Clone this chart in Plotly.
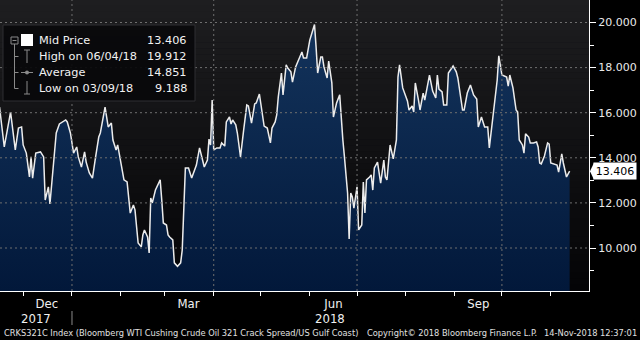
import plotly.graph_objects as go
import pandas as pd

# ---------------- data ----------------
DATES = [
    "2017-11-16", "2017-11-19", "2017-11-23", "2017-11-26", "2017-11-28", "2017-11-30",
    "2017-12-01", "2017-12-03", "2017-12-05", "2017-12-06", "2017-12-07", "2017-12-09",
    "2017-12-12", "2017-12-14", "2017-12-15", "2017-12-17", "2017-12-18", "2017-12-20",
    "2017-12-22", "2017-12-24", "2017-12-26", "2017-12-28", "2017-12-29", "2017-12-31",
    "2018-01-02", "2018-01-04", "2018-01-05", "2018-01-07", "2018-01-09", "2018-01-10",
    "2018-01-12", "2018-01-14", "2018-01-16", "2018-01-18", "2018-01-19", "2018-01-22",
    "2018-01-24", "2018-01-26", "2018-01-27", "2018-01-29", "2018-01-30",
    "2018-02-02", "2018-02-03", "2018-02-05", "2018-02-07", "2018-02-09", "2018-02-10",
    "2018-02-12", "2018-02-14", "2018-02-15", "2018-02-16", "2018-02-18", "2018-02-19",
    "2018-02-20", "2018-02-21", "2018-02-23", "2018-02-24", "2018-02-26", "2018-02-27",
    "2018-02-28", "2018-03-02", "2018-03-03", "2018-03-04", "2018-03-06", "2018-03-07",
    "2018-03-09", "2018-03-11", "2018-03-12", "2018-03-14", "2018-03-16", "2018-03-18",
    "2018-03-21", "2018-03-23", "2018-03-25", "2018-03-26", "2018-03-28", "2018-03-29",
    "2018-03-30", "2018-03-31", "2018-04-01", "2018-04-03", "2018-04-05", "2018-04-06",
    "2018-04-08", "2018-04-09", "2018-04-11", "2018-04-12", "2018-04-13", "2018-04-15",
    "2018-04-16", "2018-04-18", "2018-04-20", "2018-04-22", "2018-04-23", "2018-04-25",
    "2018-04-27", "2018-04-28", "2018-04-30", "2018-05-02", "2018-05-03", "2018-05-05",
    "2018-05-07", "2018-05-08", "2018-05-10", "2018-05-11", "2018-05-12", "2018-05-14",
    "2018-05-15", "2018-05-17", "2018-05-18", "2018-05-20", "2018-05-21", "2018-05-23",
    "2018-05-25", "2018-05-27", "2018-05-28", "2018-05-30", "2018-06-01", "2018-06-04",
    "2018-06-05", "2018-06-06", "2018-06-08", "2018-06-09", "2018-06-10", "2018-06-12",
    "2018-06-13", "2018-06-15", "2018-06-16", "2018-06-18", "2018-06-20", "2018-06-21",
    "2018-06-22", "2018-06-23", "2018-06-25", "2018-06-26", "2018-06-27", "2018-06-28",
    "2018-06-29", "2018-07-01", "2018-07-02", "2018-07-04", "2018-07-05", "2018-07-06",
    "2018-07-07", "2018-07-09", "2018-07-10", "2018-07-11", "2018-07-12", "2018-07-14",
    "2018-07-16", "2018-07-18", "2018-07-19", "2018-07-20", "2018-07-22", "2018-07-24",
    "2018-07-26", "2018-07-27", "2018-07-28", "2018-07-30", "2018-08-02", "2018-08-03",
    "2018-08-05", "2018-08-06", "2018-08-07", "2018-08-09", "2018-08-10", "2018-08-12",
    "2018-08-13", "2018-08-16", "2018-08-18", "2018-08-20", "2018-08-21", "2018-08-22",
    "2018-08-24", "2018-08-25", "2018-08-27", "2018-08-28", "2018-08-31", "2018-09-02",
    "2018-09-03", "2018-09-06", "2018-09-07", "2018-09-09", "2018-09-11", "2018-09-13",
    "2018-09-15", "2018-09-16", "2018-09-18", "2018-09-20", "2018-09-22", "2018-09-23",
    "2018-09-26", "2018-09-28", "2018-09-29", "2018-10-01", "2018-10-04", "2018-10-05",
    "2018-10-06", "2018-10-08", "2018-10-10", "2018-10-11", "2018-10-12", "2018-10-14",
    "2018-10-15", "2018-10-16", "2018-10-18", "2018-10-19", "2018-10-21", "2018-10-23",
    "2018-10-24", "2018-10-25", "2018-10-26", "2018-10-28", "2018-10-30", "2018-10-31",
    "2018-11-01", "2018-11-03", "2018-11-05", "2018-11-06", "2018-11-08", "2018-11-09",
    "2018-11-11", "2018-11-13",
]
PRICES = [
    16.25, 14.48, 16.03, 14.35, 15.32, 15.37,
    14.57, 14.21, 13.15, 14.04, 13.10, 14.21,
    14.26, 14.04, 12.13, 12.71, 11.95, 13.68,
    15.10, 15.50, 15.59, 15.68, 15.59, 15.10,
    14.21, 14.48, 14.04, 13.59, 14.26, 13.81,
    13.33, 13.10, 14.04, 14.92, 15.10, 16.25,
    15.37, 15.54, 14.79, 14.35, 14.57,
    13.46, 13.02, 12.93, 11.55, 11.91, 11.69,
    10.22, 10.05, 10.58, 10.80, 10.49, 9.78,
    12.22, 12.00, 12.57, 12.71, 13.02, 12.13,
    11.11, 11.02, 10.58, 10.49, 10.36, 9.34,
    9.188, 9.34, 9.91, 13.55, 13.55, 13.10,
    13.68, 14.44, 13.90, 13.59, 13.90, 14.83,
    14.57, 16.56, 14.35, 14.44, 14.44, 14.66,
    14.52, 15.59, 15.81, 15.50, 15.68, 15.46,
    15.10, 14.04, 15.23, 16.34, 16.30, 15.54,
    16.39, 16.43, 16.83, 15.99, 15.41, 15.32,
    14.66, 15.32, 15.59, 15.90, 16.70, 17.76,
    16.79, 18.12, 17.98, 17.81, 17.36, 18.03,
    18.34, 18.69, 18.43, 18.43, 19.22, 19.912,
    18.91, 17.76, 18.47, 18.47, 18.03, 17.54,
    18.29, 17.32, 15.81, 16.43, 16.79, 15.54,
    14.79, 14.04, 12.44, 10.40, 12.44, 12.26,
    11.77, 12.71, 10.80, 11.02, 12.93, 11.55,
    13.02, 13.15, 13.24, 12.57, 13.55, 13.81,
    12.88, 13.90, 13.15, 13.02, 14.57, 13.95,
    14.79, 17.58, 18.12, 17.10, 16.52, 16.12,
    16.30, 16.03, 17.32, 16.56, 16.12, 16.87,
    16.56, 17.67, 16.96, 16.65, 17.67, 17.05,
    16.92, 16.34, 16.34, 17.76, 18.07, 17.81,
    17.54, 16.12, 16.12, 16.87, 17.23, 16.79,
    16.61, 15.37, 15.81, 15.37, 15.37, 14.44,
    16.34, 17.45, 18.52, 17.67, 17.58, 17.18,
    17.67, 17.10, 16.12, 16.03, 14.79, 14.57,
    14.21, 15.06, 14.92, 14.66, 14.66, 14.70,
    14.48, 13.77, 13.73, 14.08, 14.66, 14.61,
    13.77, 13.73, 13.68, 13.37, 14.17, 13.77,
    13.15, 13.406,
]

LEGEND_LABELS = ["Mid Price", "High on 06/04/18", "Average", "Low on 03/09/18"]
LEGEND_VALUES = [13.406, 19.912, 14.851, 9.188]

Y_TICKS = [10, 12, 14, 16, 18, 20]
Y_MINOR_TICKS = [9, 11, 13, 15, 17, 19]
MONTH_LABEL_DATES = ["2017-12-16", "2018-03-16", "2018-06-16", "2018-09-16"]
MONTH_LABELS = ["Dec", "Mar", "Jun", "Sep"]
MONTH_TICK_DATES = [d.strftime("%Y-%m-%d") for d in pd.date_range("2017-12-01", "2018-11-01", freq="MS")]
GRID_DATES = ["2018-01-01", "2018-04-01", "2018-07-01", "2018-10-01"]
YEAR_LABELS = ["2017", "2018"]
YEAR_BOUNDARY = "2018-01-01"
FOOTER_LEFT = "CRKS321C Index (Bloomberg WTI Cushing Crude Oil 321 Crack Spread/US Gulf Coast)"
FOOTER_MID = "Copyright\u00a9 2018 Bloomberg Finance L.P."
FOOTER_RIGHT = "14-Nov-2018 12:37:01"

X_RANGE = ["2017-11-16 07:00", "2018-11-25 07:00"]
Y_RANGE = [8.093, 20.998]

# ---------------- geometry helpers ----------------
W, H = 640, 340
ML, MR, MT, MB = 0, 51, 0, 49
PW, PH = W - ML - MR, H - MT - MB


def fx(px):
    return (px - ML) / PW


def fy(py):
    return 1 - (py - MT) / PH


NARROW = "Liberation Sans Narrow, DejaVu Sans Condensed, Arial Narrow, Liberation Sans"
SANS = "DejaVu Sans, Verdana, Tahoma, sans-serif"
GRID = "#6f6f6f"
ICON = "#8a8a8a"

fig = go.Figure()
fig.add_trace(go.Scatter(
    x=DATES, y=PRICES, mode="lines",
    line=dict(color="#ececec", width=1.5),
    fill="tozeroy",
    fillgradient=dict(type="vertical",
                      colorscale=[[0, "#02183a"], [1, "#15365f"]],
                      start=Y_RANGE[0], stop=Y_RANGE[1]),
    showlegend=False, hoverinfo="skip",
))

shapes = []
# background gradient of the plot area
N = 48
top, bot = (30, 30, 32), (4, 4, 6)
for i in range(N):
    t = (i + 0.5) / N
    c = tuple(round(top[k] + (bot[k] - top[k]) * t) for k in range(3))
    shapes.append(dict(type="rect", xref="paper", yref="paper", x0=0, x1=1,
                       y0=1 - (i + 1) / N, y1=1 - i / N + 0.001,
                       fillcolor="rgb(%d,%d,%d)" % c, line=dict(width=0), layer="below"))
# dashed gridlines drawn above the area
for v in Y_TICKS:
    shapes.append(dict(type="line", xref="paper", yref="y", x0=0, x1=1, y0=v, y1=v,
                       line=dict(color=GRID, width=1, dash="2px,3px"), layer="above"))
for d in GRID_DATES:
    shapes.append(dict(type="line", xref="x", yref="paper", x0=d, x1=d, y0=0, y1=1,
                       line=dict(color=GRID, width=1, dash="2px,3px"), layer="above"))

# year separator below the axis
t0, t1, tb = pd.Timestamp(X_RANGE[0]), pd.Timestamp(X_RANGE[1]), pd.Timestamp(YEAR_BOUNDARY)
sep = (tb - t0) / (t1 - t0)
shapes.append(dict(type="line", xref="paper", yref="paper", x0=sep, x1=sep,
                   y0=fy(311), y1=fy(325), line=dict(color="#8a8a8a", width=1)))

# legend box
shapes.append(dict(type="rect", xref="paper", yref="paper", x0=fx(3), x1=fx(195),
                   y0=fy(101), y1=fy(25), fillcolor="rgba(9,9,11,0.93)",
                   line=dict(color="#2e2e33", width=1), layer="above"))
rows = [40.5, 56.5, 72.5, 88.5]


def seg(x0, y0, x1, y1, color=ICON, w=1):
    shapes.append(dict(type="line", xref="paper", yref="paper", x0=fx(x0), x1=fx(x1),
                       y0=fy(y0), y1=fy(y1), line=dict(color=color, width=w), layer="above"))


# expander box
shapes.append(dict(type="rect", xref="paper", yref="paper", x0=fx(11), x1=fx(18),
                   y0=fy(44), y1=fy(37), line=dict(color=ICON, width=1), layer="above"))
seg(12.5, 40.5, 16.5, 40.5)
seg(14.5, 44, 14.5, rows[3])
for r in rows[1:]:
    seg(14.5, r, 18.5, r)
# white square for the series
shapes.append(dict(type="rect", xref="paper", yref="paper", x0=fx(21), x1=fx(33),
                   y0=fy(46), y1=fy(34), fillcolor="white", line=dict(width=0), layer="above"))
# high icon (T)
seg(24, 50, 30, 50)
seg(27, 50, 27, 63)
# average icon
seg(21, rows[2], 33, rows[2])
shapes.append(dict(type="circle", xref="paper", yref="paper", x0=fx(25), x1=fx(29),
                   y0=fy(74.5), y1=fy(70.5), fillcolor=ICON, line=dict(width=0), layer="above"))
# low icon
seg(27, 81, 27, 94)
seg(24, 94, 30, 94)

# last-value tag arrow tip
last = PRICES[-1]
shapes.append(dict(type="path", xref="paper", yref="y", xsizemode="pixel", ysizemode="pixel",
                   xanchor=1, yanchor=last, path="M 1,0 L 5,8.5 L 5,-8.5 Z",
                   fillcolor="white", line=dict(width=0)))

annotations = []
for lab, val, r in zip(LEGEND_LABELS, LEGEND_VALUES, rows):
    annotations.append(dict(xref="paper", yref="paper", x=fx(37), y=fy(r), text=lab,
                            showarrow=False, xanchor="left", yanchor="middle",
                            font=dict(family=SANS, size=11.3, color="#f2f2f2")))
    annotations.append(dict(xref="paper", yref="paper", x=fx(189), y=fy(r), text="%.3f" % val,
                            showarrow=False, xanchor="right", yanchor="middle",
                            font=dict(family=SANS, size=11.3, color="#f2f2f2")))

annotations.append(dict(xref="paper", yref="y", x=1, y=last, xshift=4, text="%.3f" % last,
                        showarrow=False, xanchor="left", yanchor="middle", bgcolor="white",
                        width=42, height=16, borderpad=0,
                        font=dict(family=SANS, size=11, color="black")))

centers = [t0 + (tb - t0) / 2, tb + (t1 - tb) / 2]
for lab, c in zip(YEAR_LABELS, centers):
    annotations.append(dict(xref="x", yref="paper", x=c, y=fy(318.5), text=lab, showarrow=False,
                            xanchor="center", yanchor="middle",
                            font=dict(family=NARROW, size=13, color="#f0f0f0")))

for txt, xp, anc in [(FOOTER_LEFT, 2, "left"), (FOOTER_MID, 365, "left"), (FOOTER_RIGHT, 639, "right")]:
    annotations.append(dict(xref="paper", yref="paper", x=fx(xp), y=fy(332.5), text=txt,
                            showarrow=False, xanchor=anc, yanchor="middle",
                            font=dict(family=NARROW, size=9.2, color="#e0e0e0")))

fig.update_layout(
    width=W, height=H,
    margin=dict(l=ML, r=MR, t=MT, b=MB, pad=0),
    paper_bgcolor="black", plot_bgcolor="#0c0c0e",
    showlegend=False,
    shapes=shapes, annotations=annotations,
    xaxis=dict(type="date", range=X_RANGE, showgrid=False, zeroline=False,
               showline=True, linecolor="white", linewidth=1,
               tickmode="array", tickvals=MONTH_LABEL_DATES, ticktext=MONTH_LABELS,
               ticks="", ticklen=0,
               tickfont=dict(family=NARROW, size=13, color="#f0f0f0"),
               minor=dict(tickmode="array", tickvals=MONTH_TICK_DATES, ticks="outside",
                          ticklen=4, tickcolor="white", tickwidth=1, showgrid=False)),
    yaxis=dict(side="right", range=Y_RANGE, showgrid=False, zeroline=False,
               showline=True, linecolor="white", linewidth=1,
               tickmode="array", tickvals=Y_TICKS, tickformat=".3f",
               ticks="outside", ticklen=6, tickcolor="white", tickwidth=1,
               tickfont=dict(family=SANS, size=11, color="#eaeaea"),
               minor=dict(tickmode="array", tickvals=Y_MINOR_TICKS, ticks="outside",
                          ticklen=4, tickcolor="white", showgrid=False)),
)

fig.write_html("out.html")
